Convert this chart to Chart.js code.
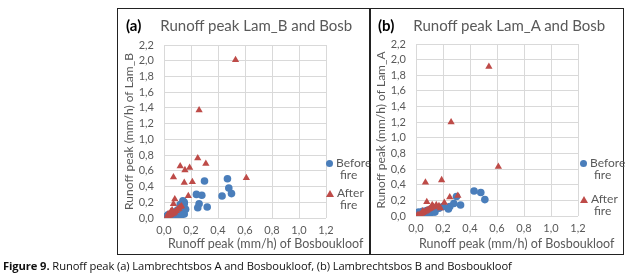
<!DOCTYPE html>
<html>
<head>
<meta charset="utf-8">
<script src="https://cdn.jsdelivr.net/npm/chart.js@4.4.1/dist/chart.umd.min.js"></script>
<style>
	body { margin: 0; background: #fff; width: 628px; height: 279px; position: relative; overflow: hidden; font-family: Lato, "Open Sans", sans-serif; }
	.panel { position: absolute; top: 8px; height: 245px; border: 1px solid #222; }
	#panel-a { left: 117px; width: 252px; }
	#panel-b { left: 369px; width: 253px; }
	.panel canvas { position: absolute; left: 0; top: 0; }
	.title { position: absolute; top: 7px; font-size: 15px; color: #595959; white-space: nowrap; }
	.title b { color: #000; font-size: 15px; margin-right: 19px; }
	.xtitle { position: absolute; top: 227px; font-size: 12.5px; color: #595959; white-space: nowrap; }
	.legend { position: absolute; width: 50px; white-space: nowrap; font-size: 12px; color: #595959; line-height: 12px; }
	.legend .sw { display: inline-block; margin-right: 3px; vertical-align: middle; }
	.legend .dot { width: 7px; height: 7px; border-radius: 50%; background: #4a7ebb; }
	.legend .tri { width: 0; height: 0; border-left: 4px solid transparent; border-right: 4px solid transparent; border-bottom: 7px solid #be4b48; }
	.legend .l2 { padding-left: 14px; }
	#caption { position: absolute; left: 3px; top: 258px; font-size: 11.2px; color: #111; white-space: nowrap; font-family: "Open Sans", sans-serif; letter-spacing: -0.1px; }
</style>
</head>
<body>
<div class="panel" id="panel-a">
	<canvas id="chart-a" width="252" height="245"></canvas>
	<div class="title" style="left:8px"><b>(a)</b>Runoff peak Lam_B and Bosb</div>
	<div class="xtitle" style="left:50px">Runoff peak (mm/h) of Bosboukloof</div>
	<div class="legend" style="left:208px; top:148px">
		<div><span class="sw dot"></span>Before</div><div class="l2">fire</div>
		<div style="margin-top:6px"><span class="sw tri"></span>After</div><div class="l2">fire</div>
	</div>
</div>
<div class="panel" id="panel-b">
	<canvas id="chart-b" width="253" height="245"></canvas>
	<div class="title" style="left:8px"><b>(b)</b>Runoff peak Lam_A and Bosb</div>
	<div class="xtitle" style="left:49px">Runoff peak (mm/h) of Bosboukloof</div>
	<div class="legend" style="left:210px; top:148px">
		<div><span class="sw dot"></span>Before</div><div class="l2">fire</div>
		<div style="margin-top:12px"><span class="sw tri"></span>After</div><div class="l2">fire</div>
	</div>
</div>
<div id="caption"><b>Figure 9.</b> Runoff peak (a) Lambrechtsbos A and Bosboukloof, (b) Lambrechtsbos B and Bosboukloof</div>

<script>
	// Axis ticks (mm/h)
	const X_TICKS = [0, 0.2, 0.4, 0.6, 0.8, 1.0, 1.2];
	const Y_TICKS = [0, 0.2, 0.4, 0.6, 0.8, 1.0, 1.2, 1.4, 1.6, 1.8, 2.0, 2.2];

	// Panel (a): Lam_B vs Bosboukloof
	const A_BEFORE_X = [0.30, 0.47, 0.48, 0.50, 0.43, 0.24, 0.28, 0.26, 0.25, 0.32, 0.15, 0.16, 0.15, 0.01, 0.02, 0.03, 0.04, 0.05, 0.06, 0.07, 0.08, 0.09, 0.10, 0.11, 0.12, 0.13, 0.14, 0.15, 0.13, 0.10, 0.08, 0.14, 0.06, 0.12];
	const A_BEFORE_Y = [0.47, 0.50, 0.38, 0.31, 0.28, 0.30, 0.29, 0.18, 0.13, 0.14, 0.20, 0.11, 0.05, 0.01, 0.02, 0.04, 0.02, 0.05, 0.03, 0.06, 0.08, 0.05, 0.10, 0.07, 0.12, 0.09, 0.15, 0.18, 0.04, 0.03, 0.02, 0.22, 0.01, 0.17];
	const A_AFTER_X = [0.53, 0.26, 0.25, 0.31, 0.12, 0.155, 0.19, 0.07, 0.15, 0.21, 0.61, 0.08, 0.18, 0.07, 0.02, 0.03, 0.04, 0.05, 0.06, 0.07, 0.08, 0.09, 0.10, 0.11, 0.12, 0.13, 0.05, 0.06, 0.03];
	const A_AFTER_Y = [2.01, 1.37, 0.76, 0.69, 0.66, 0.61, 0.64, 0.52, 0.45, 0.46, 0.51, 0.24, 0.28, 0.18, 0.01, 0.02, 0.03, 0.04, 0.05, 0.06, 0.07, 0.09, 0.11, 0.12, 0.14, 0.15, 0.08, 0.10, 0.05];

	// Panel (b): Lam_A vs Bosboukloof
	const B_BEFORE_X = [0.43, 0.48, 0.51, 0.30, 0.33, 0.28, 0.24, 0.25, 0.01, 0.02, 0.03, 0.05, 0.06, 0.08, 0.09, 0.10, 0.12, 0.13, 0.15, 0.17, 0.20, 0.04, 0.07, 0.11, 0.14];
	const B_BEFORE_Y = [0.32, 0.30, 0.21, 0.25, 0.14, 0.16, 0.09, 0.12, 0.03, 0.05, 0.04, 0.06, 0.04, 0.07, 0.05, 0.08, 0.07, 0.06, 0.09, 0.10, 0.12, 0.02, 0.03, 0.04, 0.05];
	const B_AFTER_X = [0.54, 0.26, 0.61, 0.07, 0.19, 0.08, 0.25, 0.31, 0.21, 0.12, 0.15, 0.01, 0.02, 0.03, 0.04, 0.05, 0.06, 0.07, 0.08, 0.09, 0.10, 0.11, 0.12, 0.13, 0.15, 0.17, 0.18, 0.05];
	const B_AFTER_Y = [1.91, 1.20, 0.63, 0.43, 0.46, 0.18, 0.24, 0.26, 0.17, 0.14, 0.14, 0.01, 0.01, 0.02, 0.03, 0.04, 0.05, 0.06, 0.07, 0.08, 0.09, 0.10, 0.11, 0.12, 0.12, 0.13, 0.10, 0.06];

	const BLUE = "#4a7ebb";
	const RED = "#be4b48";
	const MUTED = "#595959";
	const GRID = "#d9d9d9";
	const FONT = "Lato, 'Open Sans', sans-serif";

	const toPoints = (xs, ys) => xs.map((x, i) => ({ x: x, y: ys[i] }));
	const comma = (v) => v.toFixed(1).replace(".", ",");

	const makeChart = (id, beforeX, beforeY, afterX, afterY, yTitle, pad) => {
		return new Chart(document.getElementById(id), {
			type: "scatter",
			data: {
				datasets: [
					{
						label: "After fire",
						data: toPoints(afterX, afterY),
						pointStyle: "triangle",
						pointRadius: 4.2,
						backgroundColor: RED,
						borderColor: RED,
						borderWidth: 0,
					},
					{
						label: "Before fire",
						data: toPoints(beforeX, beforeY),
						pointStyle: "circle",
						pointRadius: 3.8,
						backgroundColor: BLUE,
						borderColor: BLUE,
						borderWidth: 0,
					},
				],
			},
			options: {
				responsive: false,
				animation: false,
				layout: {
					padding: { left: 0, top: pad.top, right: pad.right, bottom: 0 },
				},
				scales: {
					x: {
						type: "linear",
						min: 0,
						max: 1.2,
						afterBuildTicks: (scale) => { scale.ticks = X_TICKS.map((v) => ({ value: v })); },
						afterFit: (scale) => { scale.height = pad.bottom; },
						border: { display: false },
						grid: { color: GRID, drawTicks: false },
						ticks: { color: MUTED, padding: 6, autoSkip: false, font: { family: FONT, size: 11 }, callback: comma, maxRotation: 0 },
						// axis title is placed as text below (Chart.js would squeeze it to the plot width)
						title: { display: false },
					},
					y: {
						type: "linear",
						min: 0,
						max: 2.2,
						afterBuildTicks: (scale) => { scale.ticks = Y_TICKS.map((v) => ({ value: v })); },
						afterFit: (scale) => { scale.width = pad.left; },
						border: { display: false },
						grid: { color: GRID, drawTicks: false },
						ticks: { color: MUTED, padding: 10, autoSkip: false, font: { family: FONT, size: 11 }, callback: comma },
						title: { display: true, text: yTitle, color: MUTED, font: { family: FONT, size: 12 }, padding: { bottom: 0 } },
					},
				},
				plugins: {
					legend: { display: false },
					tooltip: { enabled: false },
				},
			},
		});
	};

	makeChart("chart-a", A_BEFORE_X, A_BEFORE_Y, A_AFTER_X, A_AFTER_Y, "Runoff peak (mm/h) of Lam_B", { left: 46, top: 36, right: 44, bottom: 36 });
	makeChart("chart-b", B_BEFORE_X, B_BEFORE_Y, B_AFTER_X, B_AFTER_Y, "Runoff peak (mm/h) of Lam_A", { left: 46, top: 35, right: 45, bottom: 38 });
</script>
</body>
</html>
